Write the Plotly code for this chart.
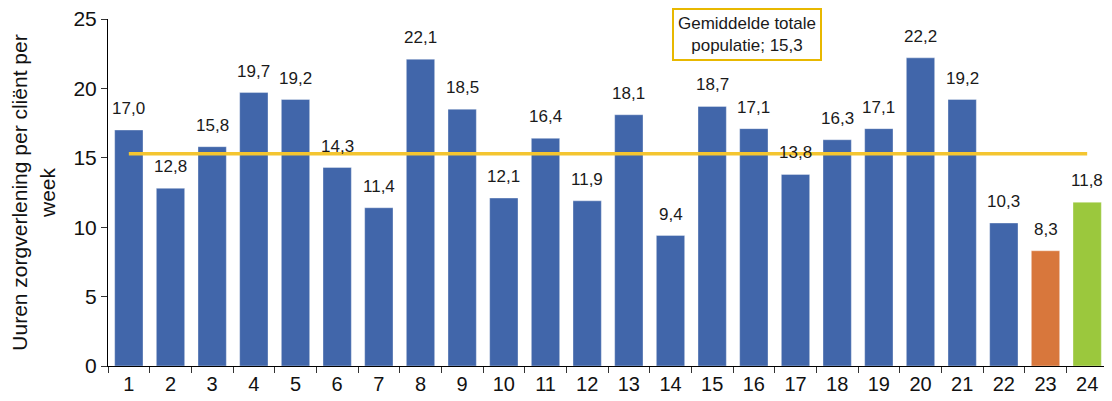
import plotly.graph_objects as go

categories = [str(i) for i in range(1, 25)]
values = [17.0, 12.8, 15.8, 19.7, 19.2, 14.3, 11.4, 22.1, 18.5, 12.1, 16.4, 11.9,
          18.1, 9.4, 18.7, 17.1, 13.8, 16.3, 17.1, 22.2, 19.2, 10.3, 8.3, 11.8]
average = 15.3
avg_label = "Gemiddelde totale<br>populatie; 15,3"
y_title = "Uuren zorgverlening per cliënt per<br>week"

blue, orange, green = "#4166AA", "#D8773C", "#9BC83D"
colors = [blue] * 22 + [orange, green]

fig = go.Figure()
fig.add_trace(go.Bar(x=categories, y=values,
                     marker=dict(color=colors, line=dict(width=1, color="rgba(255,255,255,0.35)")),
                     width=0.68, showlegend=False, hoverinfo="x+y"))
fig.add_trace(go.Scatter(x=[categories[0], categories[-1]], y=[average, average], mode="lines",
                         line=dict(color="#F4C530", width=3.5), showlegend=False))

for i, v in enumerate(values):
    fig.add_annotation(x=i, y=v, text=f"{v:.1f}".replace(".", ","), showarrow=False,
                       yanchor="bottom", yshift=10, font=dict(size=17, color="#1a1a1a"))

fig.add_annotation(xref="paper", yref="paper", x=0.639, y=1.032, xanchor="center", yanchor="top",
                   text=avg_label, showarrow=False, align="center",
                   font=dict(size=17, color="#1a1a1a"), bgcolor="white",
                   bordercolor="#E8B800", borderwidth=2, borderpad=4)

fig.update_layout(
    width=1104, height=393,
    margin=dict(l=100, r=4, t=11, b=35),
    plot_bgcolor="white", paper_bgcolor="white",
    font=dict(family="Liberation Sans, Arial, sans-serif", color="#111111"),
    bargap=0.32,
)
fig.update_xaxes(type="category", tickson="boundaries", ticks="outside", ticklen=6,
                 tickcolor="#333333", showline=True, linecolor="#000000", linewidth=1,
                 showgrid=False, tickfont=dict(size=20), range=[-0.5, 23.5], automargin=False)
fig.update_yaxes(range=[0, 25], tickvals=[0, 5, 10, 15, 20, 25], ticks="outside", ticklen=6,
                 tickcolor="#333333", showline=True, linecolor="#000000", linewidth=1,
                 showgrid=False, zeroline=False, tickfont=dict(size=21), automargin=False,
                 ticklabeloverflow="allow",
                 title=dict(text=y_title, font=dict(size=21), standoff=12))

fig.write_html("out.html")
